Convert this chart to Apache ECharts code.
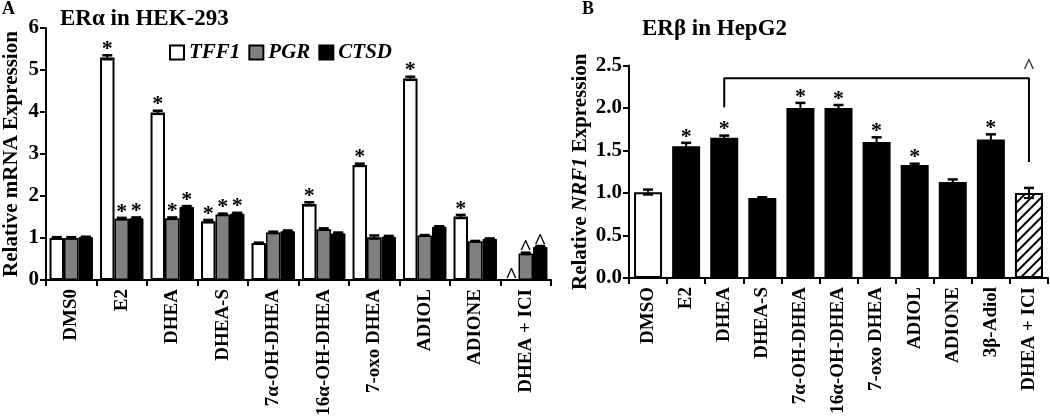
<!DOCTYPE html>
<html>
<head>
<meta charset="utf-8">
<script src="https://cdn.jsdelivr.net/npm/echarts@6/dist/echarts.min.js"></script>
<style>
html, body { margin: 0; padding: 0; background: #fff; }
#chart { width: 1050px; height: 419px; }
</style>
</head>
<body>
<div id="chart"></div>
<script>
// panel A - ERα in HEK-293
var catsA = ["DMS0", "E2", "DHEA", "DHEA-S", "7α-OH-DHEA", "16α-OH-DHEA", "7-oxo DHEA", "ADIOL", "ADIONE", "DHEA + ICI"];
var tff1 = [1.0, 5.30, 3.99, 1.40, 0.88, 1.81, 2.74, 4.80, 1.51, 0];
var tff1Err = [0.02, 0.05, 0.04, 0.03, 0.01, 0.04, 0.03, 0.04, 0.04, 0];
var pgr = [1.0, 1.46, 1.47, 1.56, 1.13, 1.21, 1.02, 1.06, 0.92, 0.63];
var pgrErr = [0.02, 0.02, 0.02, 0.02, 0.02, 0.02, 0.04, 0.01, 0.01, 0.02];
var ctsd = [1.02, 1.47, 1.74, 1.58, 1.16, 1.11, 1.03, 1.27, 0.98, 0.79];
var ctsdErr = [0.01, 0.02, 0.02, 0.02, 0.02, 0.02, 0.02, 0.01, 0.01, 0.02];
var markTff1 = ["", "*", "*", "*", "", "*", "*", "*", "*", "^"];
var markPgr = ["", "*", "*", "*", "", "", "", "", "", "^"];
var markCtsd = ["", "*", "*", "*", "", "", "", "", "", "^"];

// panel B - ERβ in HepG2
var catsB = ["DMSO", "E2", "DHEA", "DHEA-S", "7α-OH-DHEA", "16α-OH-DHEA", "7-oxo DHEA", "ADIOL", "ADIONE", "3β-Adiol", "DHEA + ICI"];
var nrf1 = [1.01, 1.55, 1.65, 0.94, 2.0, 2.0, 1.6, 1.33, 1.13, 1.63, 1.0];
var nrf1Err = [0.03, 0.04, 0.025, 0.01, 0.06, 0.035, 0.055, 0.015, 0.03, 0.06, 0.06];
var markB = ["", "*", "*", "", "*", "*", "*", "*", "", "*", ""];
var bracketB = [[2, 2.01], [2, 2.35], [10, 2.35], [10, 1.365]];
var caretB = [10, 2.35];

var FONT = "'Liberation Serif', 'Times New Roman', serif";

// error bars + significance marks, drawn on top of the bars
function errSeries(vals, errs, marks, slot, nSlots, gap, xi, yi, fixedW) {
  return {
    type: "custom",
    xAxisIndex: xi,
    yAxisIndex: yi,
    z: 5,
    silent: true,
    data: vals.map(function (v, i) { return [i, v, errs[i]]; }),
    renderItem: function (params, api) {
      var i = api.value(0), v = api.value(1), e = api.value(2);
      var band = api.size([1, 0])[0];
      var bw = fixedW || band * (1 - gap) / nSlots;
      var x = api.coord([i, v])[0] + (slot - (nSlots - 1) / 2) * bw;
      var top = api.coord([i, v + e])[1];
      var bot = api.coord([i, v - e])[1];
      var cw = Math.min(bw * 0.7, 10);
      var kids = [];
      if (e > 0) {
        kids.push({ type: "line", shape: { x1: x, y1: top, x2: x, y2: bot }, style: { stroke: "#000", lineWidth: 2 } });
        kids.push({ type: "line", shape: { x1: x - cw / 2, y1: top, x2: x + cw / 2, y2: top }, style: { stroke: "#000", lineWidth: 2.5 } });
        kids.push({ type: "line", shape: { x1: x - cw / 2, y1: bot, x2: x + cw / 2, y2: bot }, style: { stroke: "#000", lineWidth: 2 } });
      }
      var m = marks[params.dataIndex];
      if (m) {
        kids.push({
          type: "text", x: x, y: top + (m === "*" ? 5 : 7),
          style: { text: m, textAlign: "center", textVerticalAlign: "bottom", font: "bold 22px " + FONT, fill: "#000" }
        });
      }
      return { type: "group", children: kids };
    }
  };
}

var axisLine = { show: true, lineStyle: { color: "#000", width: 2 } };
var axisTick = { show: true, length: 6, lineStyle: { color: "#000", width: 2 } };
var ylab = { color: "#000", fontFamily: FONT, fontWeight: "bold", fontSize: 21, margin: 7 };
var xlab = { color: "#000", fontFamily: FONT, fontWeight: "bold", fontSize: 19, rotate: 90, interval: 0, margin: 9 };

var hatch = {
  symbol: "rect", symbolSize: 1, dashArrayX: [[1, 0]], dashArrayY: [2, 5],
  rotation: -Math.PI / 4, color: "#000", backgroundColor: "#fff"
};

var dataB = nrf1.map(function (v, i) {
  if (i === 0) return { value: v, itemStyle: { color: "#fff", borderColor: "#000", borderWidth: 2 } };
  if (i === nrf1.length - 1) return { value: v, itemStyle: { color: "#fff", borderColor: "#000", borderWidth: 2, decal: hatch } };
  return v;
});

var chart = echarts.init(document.getElementById("chart"));
chart.setOption({
  animation: false,
  backgroundColor: "#fff",
  graphic: [
    { type: "text", left: 2, top: 0, style: { text: "A", font: "bold 18px " + FONT, fill: "#000" } },
    { type: "text", left: 60, top: 8, style: { text: "ERα in HEK-293", font: "bold 23px " + FONT, fill: "#000" } },
    { type: "text", left: 582, top: 0, style: { text: "B", font: "bold 18px " + FONT, fill: "#000" } },
    { type: "text", left: 642, top: 18, style: { text: "ERβ in HepG2", font: "bold 23px " + FONT, fill: "#000" } }
  ],
  legend: {
    data: ["TFF1", "PGR", "CTSD"],
    left: 164, top: 37,
    icon: "rect", itemWidth: 14, itemHeight: 14, itemGap: 8,
    textStyle: { color: "#000", fontFamily: FONT, fontWeight: "bold", fontStyle: "italic", fontSize: 21, padding: [0, 0, 0, 0] }
  },
  grid: [
    { left: 45, top: 28, width: 506, height: 252 },
    { left: 629, top: 65.5, width: 419, height: 212.5 }
  ],
  xAxis: [
    { type: "category", gridIndex: 0, data: catsA, axisLine: axisLine, axisTick: axisTick, axisLabel: xlab },
    { type: "category", gridIndex: 1, data: catsB, axisLine: axisLine, axisTick: axisTick, axisLabel: xlab }
  ],
  yAxis: [
    {
      type: "value", gridIndex: 0, min: 0, max: 6, interval: 1,
      axisLine: axisLine, axisTick: axisTick, axisLabel: ylab, splitLine: { show: false },
      name: "Relative mRNA Expression", nameLocation: "middle", nameGap: 24,
      nameTextStyle: { color: "#000", fontFamily: FONT, fontWeight: "bold", fontSize: 21 }
    },
    {
      type: "value", gridIndex: 1, min: 0, max: 2.5, interval: 0.5,
      axisLine: axisLine, axisTick: axisTick, splitLine: { show: false },
      axisLabel: Object.assign({}, ylab, { formatter: function (v) { return v.toFixed(1); } }),
      name: "Relative {i|NRF1} Expression", nameLocation: "middle", nameGap: 38,
      nameTextStyle: {
        color: "#000", fontFamily: FONT, fontWeight: "bold", fontSize: 21,
        rich: { i: { color: "#000", fontFamily: FONT, fontWeight: "bold", fontStyle: "italic", fontSize: 21 } }
      }
    }
  ],
  series: [
    { type: "bar", name: "TFF1", xAxisIndex: 0, yAxisIndex: 0, data: tff1, barGap: "0%", barCategoryGap: "14%",
      itemStyle: { color: "#fff", borderColor: "#000", borderWidth: 2 } },
    { type: "bar", name: "PGR", xAxisIndex: 0, yAxisIndex: 0, data: pgr, barGap: "0%", barCategoryGap: "14%",
      itemStyle: { color: "#808080", borderColor: "#000", borderWidth: 1.5 } },
    { type: "bar", name: "CTSD", xAxisIndex: 0, yAxisIndex: 0, data: ctsd, barGap: "0%", barCategoryGap: "14%",
      itemStyle: { color: "#000", borderColor: "#000", borderWidth: 1 } },
    errSeries(tff1, tff1Err, markTff1, 0, 3, 0.14, 0, 0),
    errSeries(pgr, pgrErr, markPgr, 1, 3, 0.14, 0, 0),
    errSeries(ctsd, ctsdErr, markCtsd, 2, 3, 0.14, 0, 0),

    { type: "bar", name: "NRF1", xAxisIndex: 1, yAxisIndex: 1, data: dataB, barWidth: 28,
      itemStyle: { color: "#000" } },
    errSeries(nrf1, nrf1Err, markB, 0, 1, 0, 1, 1, 28),
    { type: "line", xAxisIndex: 1, yAxisIndex: 1, data: bracketB, symbol: "none", z: 6, silent: true,
      lineStyle: { color: "#000", width: 2 } },
    { type: "scatter", xAxisIndex: 1, yAxisIndex: 1, data: [caretB], symbolSize: 0.1, z: 6, silent: true,
      label: { show: true, position: "top", distance: 0, formatter: "^", color: "#000", fontFamily: FONT, fontWeight: "bold", fontSize: 22 } }
  ]
});
</script>
</body>
</html>
